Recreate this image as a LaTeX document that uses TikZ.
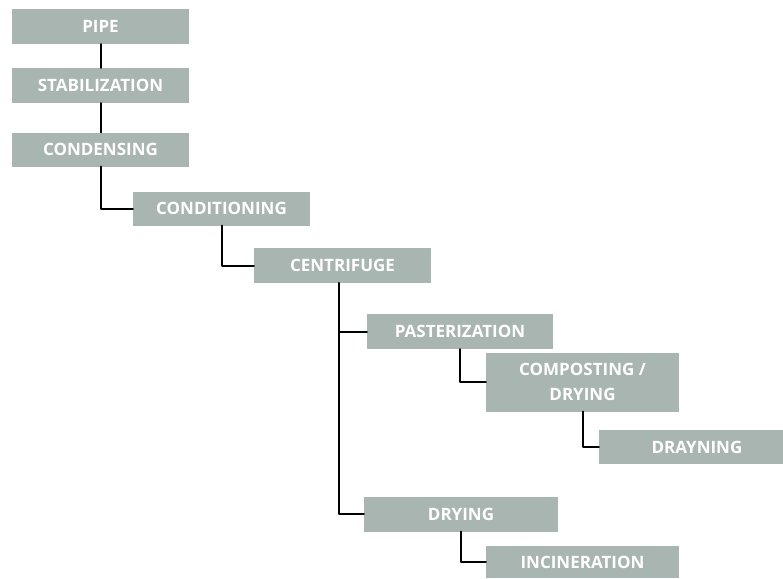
\documentclass[tikz,border=0pt]{standalone}
\usepackage{fontspec}
\setsansfont{Open Sans}
\definecolor{boxgray}{RGB}{169,181,177}

\begin{document}
\begin{tikzpicture}[line cap=round,line join=round,x=1pt,y=-1pt,
  stage/.style={fill=boxgray,inner sep=0pt,text=white,align=center,
    font=\sffamily\bfseries\fontsize{17}{25}\selectfont,
    minimum width=177pt,minimum height=35pt},
  link/.style={line width=2pt,black}]
\useasboundingbox (0,0) rectangle (783,578);
\node[stage] (pipe) at (100.5,26.5) {PIPE};
\node[stage] (stab) at (100.5,85.5) {STABILIZATION};
\node[stage,minimum height=34pt] (cond) at (100.5,149.5) {CONDENSING};
\node[stage,minimum height=34pt] (condit) at (221.5,208.5) {CONDITIONING};
\node[stage] (centri) at (342.5,265.5) {CENTRIFUGE};
\node[stage,minimum width=186pt] (paster) at (460,331.5) {PASTERIZATION};
\node[stage,minimum width=193pt,minimum height=59pt] (compost) at (582.5,382) {COMPOSTING /\\DRYING};
\node[stage,minimum width=184pt,minimum height=34pt] (drayn) at (691,447) {\hspace*{12pt}DRAYNING};
\node[stage,minimum width=194pt] (drying) at (461,514) {DRYING};
\node[stage,minimum width=193pt,minimum height=32pt] (incin) at (582.5,562) {INCINERATION};

\draw[link] (pipe.south) -- (stab.north);
\draw[link] (stab.south) -- (cond.north);
\draw[link] (cond.south) |- (condit.west);
\draw[link] (condit.south) |- (centri.west);
\draw[link] ([xshift=-4pt]centri.south) |- (paster.west);
\draw[link] ([xshift=-4pt]centri.south) |- (drying.west);
\draw[link] (paster.south) |- (compost.west);
\draw[link] (compost.south) |- (drayn.west);
\draw[link] (drying.south) |- (incin.west);

\end{tikzpicture}
\end{document}
